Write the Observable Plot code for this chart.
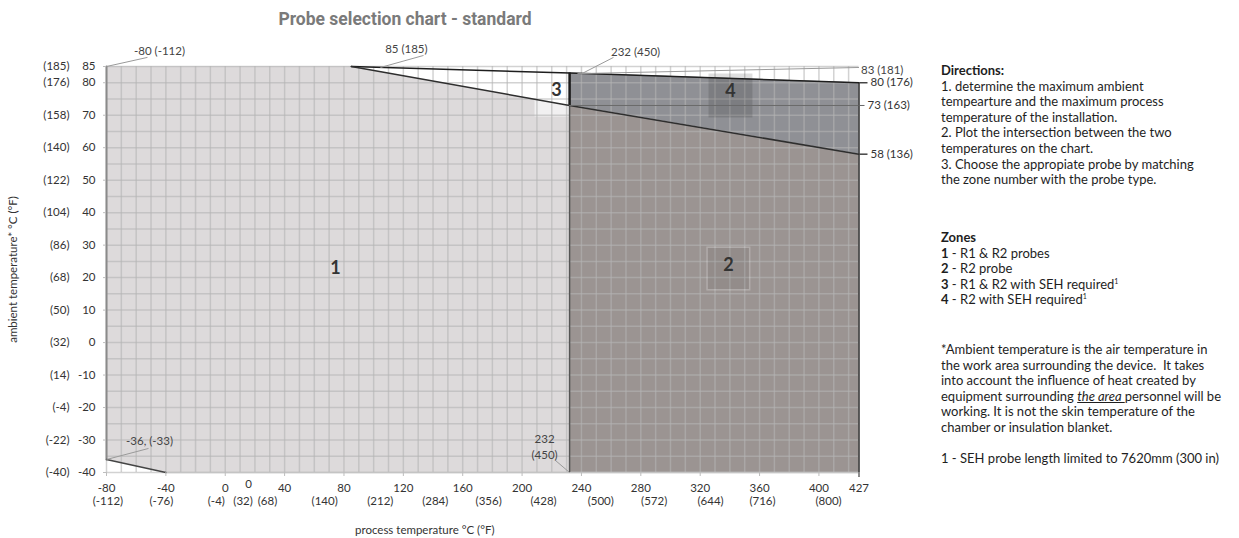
<!DOCTYPE html>
<html><head><meta charset="utf-8">
<script src="https://cdn.jsdelivr.net/npm/d3@7"></script>
<script src="https://cdn.jsdelivr.net/npm/@observablehq/plot@0.6"></script>
<style>
body{margin:0;background:#fff;font-family:Lato,"Open Sans",sans-serif;}
#wrap{position:relative;width:1239px;height:538px;overflow:hidden;background:#fff;}
#chart{position:absolute;left:0;top:0;}
#title{position:absolute;left:0;width:810px;top:9px;text-align:center;font-family:Roboto,sans-serif;font-weight:bold;font-size:17.5px;color:#7a7a7a;}
.blk{position:absolute;left:941px;font-size:13px;line-height:15.6px;color:#1e1e1e;white-space:nowrap;}
sup{font-size:7px;line-height:0;vertical-align:5px;}
</style></head><body>
<div id="wrap">
<div id="chart"></div>
<div id="title">Probe selection chart - standard</div>
<div class="blk" style="top:63px"><b>Directions:</b><br>1. determine the maximum ambient<br>tempearture and the maximum process<br>temperature of the installation.<br>2. Plot the intersection between the two<br>temperatures on the chart.<br>3. Choose the appropiate probe by matching<br>the zone number with the probe type.</div>
<div class="blk" style="top:230px"><b>Zones</b><br><b>1</b> - R1 &amp; R2 probes<br><b>2</b> - R2 probe<br><b>3</b> - R1 &amp; R2 with SEH required<sup>1</sup><br><b>4</b> - R2 with SEH required<sup>1</sup></div>
<div class="blk" style="top:342px">*Ambient temperature is the air temperature in<br>the work area surrounding the device.&nbsp; It takes<br>into account the influence of heat created by<br>equipment surrounding <u><i>the area </i></u>personnel will be<br>working. It is not the skin temperature of the<br>chamber or insulation blanket.</div>
<div class="blk" style="top:451px">1 - SEH probe length limited to 7620mm (300 in)</div>
</div>
<script>
// ---- axis ticks ----
const xTicks = [-80, -40, 0, 40, 80, 120, 160, 200, 240, 280, 320, 360, 400, 427];
const yTicks = [85, 80, 70, 60, 50, 40, 30, 20, 10, 0, -10, -20, -30, -40];
const yTicksF = [185, 176, 158, 140, 122, 104, 86, 68, 50, 32, 14, -4, -22, -40];
const xLabelsF = ["(-112)", "(-76)", "(-4)", "(32)", "(68)", "(140)", "(212)", "(284)", "(356)", "(428)", "(500)", "(572)", "(644)", "(716)", "(800)"];
const xLabelsFAt = [-79, -43, -6, 12, 28.5, 67, 104.5, 141.5, 177.5, 214.5, 253, 289, 327, 362, 406.5];
const xExtraLabel = ["0"];
const xExtraLabelAt = [15.7];

// ---- zones (process °C, ambient °C) ----
const zone1X = [-80, -40, 85, 232], zone1Low = [-36, -40, -40, -40], zone1High = [85, 85, 85, 73];
const zone2X = [232, 427], zone2Low = [-40, -40], zone2High = [73, 58];
const zone3X = [85, 232], zone3Low = [85, 73], zone3High = [85, 83];
const zone4X = [232, 427], zone4Low = [73, 58], zone4High = [83, 80];

// ---- boundary lines ----
const upperEdgeX = [85, 232, 427], upperEdgeY = [85, 83, 80];
const lowerEdgeX = [85, 232, 427], lowerEdgeY = [85, 73, 58];
const leftEdgeX = [-80, -80], leftEdgeY = [85, -36];
const cutEdgeX = [-80, -40], cutEdgeY = [-36, -40];

// ---- zone labels ----
const zoneNames = ["1", "2", "3", "4"];
const zoneLabelX = [74.3, 339, 223.2, 340.4];
const zoneLabelY = [22.8, 23.7, 77.6, 77.3];

// ---- right-side values ----
const rightTicks = [80, 73, 58];
const rightTicksF = [176, 163, 136];

// ---- annotations ----
const annotations = [
  {label: "-80 (-112)", x: -80, y: 85},
  {label: "85 (185)", x: 85, y: 85},
  {label: "232 (450)", x: 232, y: 83},
  {label: "-36, (-33)", x: -80, y: -36},
  {label: "232\n(450)", x: 232, y: -40},
  {label: "83 (181)", x: 427, y: 84.7}
];
const leaders = [
  {x1: -80, y1: 85, x2: -52.4, y2: 87.8},
  {x1: 104.6, y1: 84.7, x2: 133.6, y2: 88.4},
  {x1: 240.7, y1: 82.9, x2: 261.6, y2: 87.8},
  {x1: -80, y1: -36, x2: -51.7, y2: -32.6},
  {x1: 222.5, y1: -36.3, x2: 232, y2: -40},
  {x1: 237.3, y1: 82.8, x2: 427, y2: 84.7}
];

const rows = (xs, lo, hi) => xs.map((x, i) => ({x, lo: lo[i], hi: hi[i]}));
const pts = (xs, ys) => xs.map((x, i) => ({x, y: ys[i]}));
const fMap = new Map(yTicks.map((c, i) => [c, yTicksF[i]]));
const rMap = new Map(rightTicks.map((c, i) => [c, rightTicksF[i]]));
const zoneLabels = zoneNames.map((t, i) => ({t, x: zoneLabelX[i], y: zoneLabelY[i]}));
const xF = xLabelsF.map((t, i) => ({t, x: xLabelsFAt[i]}));
const xE = xExtraLabel.map((t, i) => ({t, x: xExtraLabelAt[i]}));
const annOffsets = [[53, -17], [55, -19], [66, -22.5], [43, -20], [-25, -27], [2, 1]];
const annAnchors = ["middle", "middle", "middle", "middle", "middle", "start"];

const gridX = d3.range(-80, 421, 10);
const gridY = d3.range(-40, 86, 5);

const plot = Plot.plot({
  width: 940, height: 538,
  marginLeft: 106, marginRight: 81.5, marginTop: 66, marginBottom: 66,
  x: {domain: [-80, 427], label: null},
  y: {domain: [-40, 85], label: null},
  style: {fontFamily: "Lato, sans-serif", fontSize: "11.5px", color: "#333", background: "transparent", overflow: "visible"},
  marks: [
    Plot.areaY(rows(zone1X, zone1Low, zone1High), {x: "x", y1: "lo", y2: "hi", fill: "#dddadb"}),
    Plot.areaY(rows(zone3X, zone3Low, zone3High), {x: "x", y1: "lo", y2: "hi", fill: "#ffffff"}),
    Plot.dot(zoneLabels.filter(d => d.t === "3"), {x: "x", y: "y", symbol: "square", r: 24.8, dy: 4, fill: "#ffffff", fillOpacity: 0.6, stroke: "none"}),
    Plot.areaY(rows(zone2X, zone2Low, zone2High), {x: "x", y1: "lo", y2: "hi", fill: "#9b9492"}),
    Plot.areaY(rows(zone4X, zone4Low, zone4High), {x: "x", y1: "lo", y2: "hi", fill: "#8f9095"}),
    Plot.ruleX(gridX, {y1: -40, y2: 85, stroke: "#b4b4b4", strokeOpacity: 0.6, strokeWidth: 1.5}),
    Plot.ruleY(gridY, {x1: -80, x2: 427, stroke: "#b4b4b4", strokeOpacity: 0.6, strokeWidth: 1.5}),
    Plot.dot(zoneLabels.filter(d => d.t === "4"), {x: "x", y: "y", symbol: "square", r: 24.8, dy: 4, fill: "#000", fillOpacity: 0.13, stroke: "none"}),
    Plot.dot(zoneLabels.filter(d => d.t === "2"), {x: "x", y: "y", symbol: "square", r: 24, dy: 3, fill: "#000", fillOpacity: 0.05, stroke: "#fff", strokeOpacity: 0.25}),
    // boundaries
    Plot.ruleY([-40], {x1: -40, x2: 427, stroke: "#c4c4c4", strokeWidth: 1.5}),
    Plot.line(pts(leftEdgeX, leftEdgeY), {x: "x", y: "y", stroke: "#8a8a8a", strokeWidth: 2}),
    Plot.line(pts(cutEdgeX, cutEdgeY), {x: "x", y: "y", stroke: "#444", strokeWidth: 1.5}),
    Plot.ruleX([232], {y1: -40, y2: 73, stroke: "#555", strokeWidth: 1.5}),
    Plot.ruleX([232], {y1: 73, y2: 83, stroke: "#1a1a1a", strokeWidth: 2.5}),
    Plot.ruleX([427], {y1: -41.5, y2: 80, stroke: "#2a2a2a", strokeWidth: 1.5}),
    Plot.line(pts(upperEdgeX, upperEdgeY), {x: "x", y: "y", stroke: "#1e1e1e", strokeWidth: 1.5}),
    Plot.line(pts(lowerEdgeX, lowerEdgeY), {x: "x", y: "y", stroke: "#2e2e2e", strokeWidth: 1.5}),
    Plot.ruleY([73], {x1: 232, x2: 427, stroke: "#6a6a6a", strokeWidth: 1}),
    // leaders
    Plot.link(leaders, {x1: "x1", y1: "y1", x2: "x2", y2: "y2", stroke: "#9a9a9a", strokeWidth: 1}),
    // zone labels
    Plot.text(zoneLabels, {x: "x", y: "y", text: "t", fontSize: 18, fontWeight: "bold", fill: "#333"}),
    // axes
    Plot.axisY(yTicks, {tickSize: 3, tickPadding: 8, stroke: "#bdbdbd", fill: "#333", tickFormat: d => String(d), label: null}),
    Plot.axisY(yTicks, {tickSize: 0, tickPadding: 37, tickFormat: d => `(${fMap.get(d)})`, fill: "#333", label: null}),
    Plot.axisX(xTicks, {tickSize: 4, tickPadding: 7, stroke: "#bdbdbd", fill: "#333", tickFormat: d => String(d), label: null}),
    Plot.text(xF, {x: "x", text: "t", frameAnchor: "bottom", lineAnchor: "middle", dy: 29, fill: "#333"}),
    Plot.text(xE, {x: "x", text: "t", frameAnchor: "bottom", lineAnchor: "middle", dy: 12, fill: "#333"}),
    Plot.axisY([80, 58], {anchor: "right", tickSize: 8, tickPadding: 3.5, stroke: "#444", strokeWidth: 1.5, fill: "#333", tickFormat: d => `${d} (${rMap.get(d)})`, label: null}),
    Plot.axisY([73], {anchor: "right", tickSize: 5, tickPadding: 3.5, stroke: "#666", strokeWidth: 1, fill: "#333", tickFormat: d => `${d} (${rMap.get(d)})`, label: null}),
    ...annotations.map((a, i) => Plot.text([a], {x: "x", y: "y", text: "label", dx: annOffsets[i][0], dy: annOffsets[i][1], textAnchor: annAnchors[i], lineHeight: 1.4, fill: "#444"})),
    // axis titles
    Plot.text(["ambient temperature* °C (°F)"], {frameAnchor: "left", textAnchor: "middle", lineAnchor: "middle", rotate: -90, dx: -93, fill: "#333"}),
    Plot.text(["process temperature °C (°F)"], {frameAnchor: "bottom", textAnchor: "middle", lineAnchor: "middle", dx: -58, dy: 58, fill: "#333"})
  ]
});
document.getElementById("chart").appendChild(plot);
</script>
</body></html>
